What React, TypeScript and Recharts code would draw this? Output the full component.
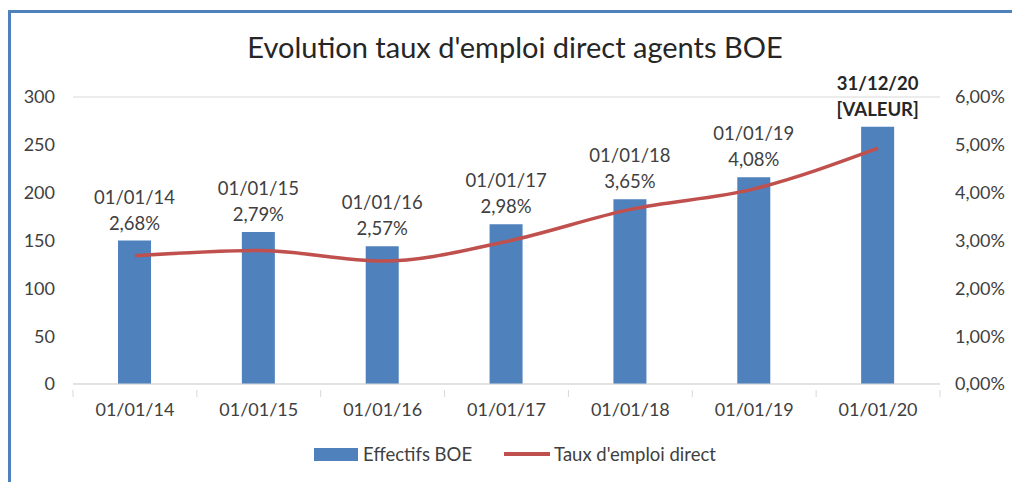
import { ComposedChart, Bar, Line, XAxis, YAxis, CartesianGrid, LabelList } from "recharts";

const dates = ["01/01/14", "01/01/15", "01/01/16", "01/01/17", "01/01/18", "01/01/19", "01/01/20"];
const effectifs = [150, 159, 144, 167, 193, 216, 269];
const taux = [0.0268, 0.0279, 0.0257, 0.0298, 0.0365, 0.0408, 0.0493];
const labelDates = ["01/01/14", "01/01/15", "01/01/16", "01/01/17", "01/01/18", "01/01/19", "31/12/20"];
const labelValues = ["2,68%", "2,79%", "2,57%", "2,98%", "3,65%", "4,08%", "[VALEUR]"];
const leftTicks = [0, 50, 100, 150, 200, 250, 300];
const rightTicks = [0, 0.01, 0.02, 0.03, 0.04, 0.05, 0.06];

const data = dates.map((d, i) => ({
  date: d,
  effectifs: effectifs[i],
  taux: taux[i],
}));

const FONT = "Lato, 'Open Sans', sans-serif";
const TEXT = "#404040";
const BLUE = "#4F81BD";
const RED = "#C0504D";
const GRID = "#D9D9D9";
const BAND = (940 - 73) / dates.length;

const fmtPct = (v: number) => (v * 100).toFixed(2).replace(".", ",") + "%";

// x tick: label + Excel-style tick marks on category boundaries
const XTick = (props: any) => {
  const { x, y, payload, index } = props;
  return (
    <g>
      <line x1={x - BAND / 2} x2={x - BAND / 2} y1={y - 2} y2={y + 5} stroke={GRID} />
      {index === dates.length - 1 && (
        <line x1={x + BAND / 2} x2={x + BAND / 2} y1={y - 2} y2={y + 5} stroke={GRID} />
      )}
      <text x={x} y={y + 24} textAnchor="middle" fontSize={18} fill={TEXT} fontFamily={FONT}>
        {payload.value}
      </text>
    </g>
  );
};

const BarLabel = (props: any) => {
  const { x, y, width, index } = props;
  const last = index === dates.length - 1;
  const cx = x + width / 2;
  const col = last ? "#262626" : TEXT;
  return (
    <g>
      <text x={cx} y={y - 37} textAnchor="middle" fontSize={18.5} fill={col}
        fontWeight={last ? 700 : 400} fontFamily={FONT}>
        {labelDates[index]}
      </text>
      <text x={cx} y={y - 11} textAnchor="middle" fontSize={18.5} fill={col}
        fontWeight={last ? 700 : 400} fontFamily={FONT}>
        {labelValues[index]}
      </text>
    </g>
  );
};

export default function App() {
  return (
    <div style={{ position: "absolute", left: 0, top: 0, width: 1012, height: 482, background: "#fff", overflow: "hidden", fontFamily: FONT }}>
      <div style={{ position: "absolute", left: 8, top: 10, width: 1020, height: 500, border: `3px solid ${BLUE}`, boxSizing: "border-box" }} />
      <div style={{ position: "absolute", left: 0, top: 29, width: 1030, textAlign: "center", fontSize: 29, color: "#262626" }}>
        Evolution taux d'emploi direct agents BOE
      </div>
      <div style={{ position: "absolute", left: 0, top: 0 }}>
        <ComposedChart width={1012} height={482} data={data} margin={{ top: 97, right: 0, bottom: 58, left: 13 }}>
          <CartesianGrid vertical={false} stroke={GRID} />
          <XAxis dataKey="date" stroke={GRID} tickLine={false} tick={<XTick />} height={40} interval={0} />
          <YAxis yAxisId="l" domain={[0, 300]} ticks={leftTicks} width={60} axisLine={false} tickLine={false}
            tickSize={0} tickMargin={18} tick={{ fontSize: 18, fill: TEXT, fontFamily: FONT }} />
          <YAxis yAxisId="r" orientation="right" domain={[0, 0.06]} ticks={rightTicks} width={72} axisLine={false}
            tickLine={false} tickSize={0} tickMargin={15} tickFormatter={fmtPct}
            tick={{ fontSize: 18, fill: TEXT, fontFamily: FONT, textAnchor: "start" }} />
          <Bar yAxisId="l" dataKey="effectifs" fill={BLUE} barSize={33} isAnimationActive={false}>
            <LabelList dataKey="effectifs" content={<BarLabel />} />
          </Bar>
          <Line yAxisId="r" dataKey="taux" type="monotone" stroke={RED} strokeWidth={3.5} dot={false} isAnimationActive={false} />
        </ComposedChart>
      </div>
      <div style={{ position: "absolute", left: 0, top: 443, width: 1030, display: "flex", justifyContent: "center", alignItems: "center", fontSize: 18.5, color: TEXT }}>
        <span style={{ display: "flex", alignItems: "center" }}>
          <span style={{ width: 44, height: 13, background: BLUE, marginRight: 5 }} />
          Effectifs BOE
        </span>
        <span style={{ display: "flex", alignItems: "center", marginLeft: 32 }}>
          <span style={{ width: 46, height: 4, background: RED, marginRight: 4 }} />
          Taux d'emploi direct
        </span>
      </div>
    </div>
  );
}
